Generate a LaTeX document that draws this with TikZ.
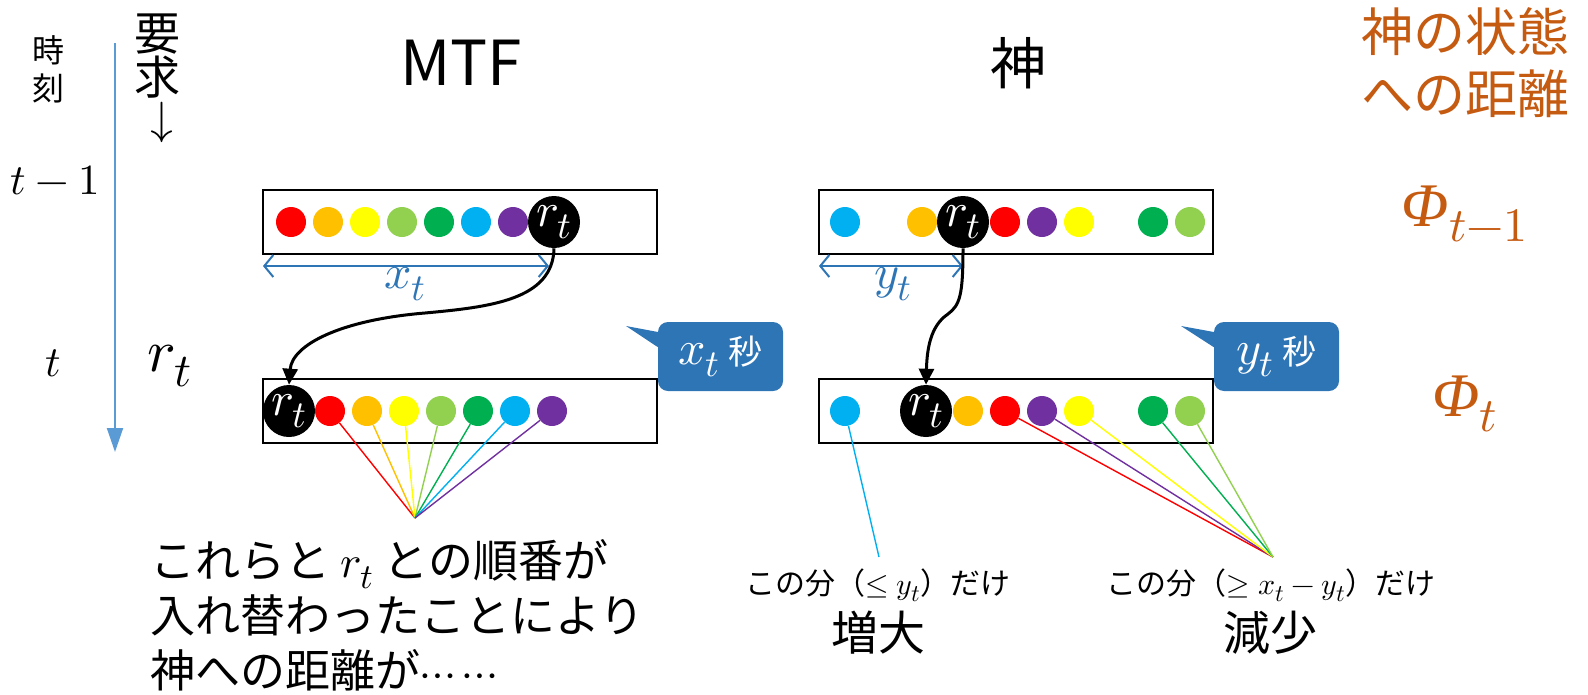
\documentclass[tikz,border=0pt]{standalone}
\usepackage{fontspec}
\usepackage{unicode-math}
\setmainfont{Noto Sans CJK JP}
\setmathfont{Latin Modern Math}
\newfontfamily\phifont{Liberation Serif}
\usepackage{xcolor}
\usetikzlibrary{arrows.meta}
\usetikzlibrary{positioning}

\DeclareMathSizes{30}{30}{24}{19}
\DeclareMathSizes{43}{43}{34}{27}
\DeclareMathSizes{45}{45}{35}{28}
\DeclareMathSizes{48}{48}{38}{30}
\DeclareMathSizes{50}{50}{39}{31}
\DeclareMathSizes{60}{60}{47}{37}
\DeclareMathSizes{62}{62}{48}{38}

\definecolor{ppred}{HTML}{FF0000}
\definecolor{pporange}{HTML}{FFC000}
\definecolor{ppyellow}{HTML}{FFFF00}
\definecolor{pplgreen}{HTML}{92D050}
\definecolor{ppgreen}{HTML}{00B050}
\definecolor{ppcyan}{HTML}{00B0F0}
\definecolor{pppurple}{HTML}{7030A0}
\definecolor{cblue}{HTML}{2E75B6}
\definecolor{tblue}{HTML}{5B9BD5}
\definecolor{corange}{HTML}{C55A11}

\begin{document}
\begin{tikzpicture}[x=1pt,y=-1pt,node distance=37pt,semithick]
	\tikzstyle{ball}=[circle, inner sep=0pt, minimum size=30pt]
	\tikzstyle{req}=[circle, fill=black, text=white, inner sep=0pt, minimum size=52pt, font=\fontsize{48}{48}\selectfont]
	\tikzstyle{row}=[draw=black, line width=2.6pt]
	\tikzstyle{tie}=[line width=1.4pt]
	\tikzstyle{flow}=[-{Triangle[length=16pt,width=15pt]}, line width=3pt]
	\tikzstyle{span}=[{Straight Barb[length=9pt,width=22pt]}-{Straight Barb[length=9pt,width=22pt]}, draw=cblue, line width=2pt]
	\tikzstyle{say}=[fill=cblue, rounded corners=10pt, minimum width=125pt, minimum height=69pt, inner sep=0pt, text=white, font=\fontsize{48}{48}\selectfont]
	\tikzstyle{phi}=[text=corange, font=\fontsize{62}{62}\selectfont]
	\tikzstyle{note}=[font=\fontsize{30}{30}\selectfont]
	\tikzstyle{verdict}=[font=\fontsize{47}{47}\selectfont]
	\useasboundingbox (0,0) rectangle (1588,694);

	% time axis
	\coordinate (T0) at (115,43);
	\coordinate (T1) at (115,452);
	\draw[-{Triangle[length=24pt,width=16pt]}, draw=tblue, line width=2pt] (T0) -- (T1);
	\node[font=\fontsize{32}{38}\selectfont, align=center] (clock) at (48,69) {時\\刻};
	\node[font=\fontsize{46}{44}\selectfont, align=center] (ask) at (157,78) {要\\求\\[-4pt]\hspace*{10pt}$\downarrow$};
	\node[font=\fontsize{43}{43}\selectfont] (tprev) at (55,180) {$t-1$};
	\node[font=\fontsize{43}{43}\selectfont] (tnow) at (53,363) {$t$};
	\node[font=\fontsize{60}{60}\selectfont] (rnow) at (170,366) {$r_t$};

	% headings
	\node[font=\fontsize{62}{62}\selectfont] (mtf) at (461,63) {MTF};
	\node[font=\fontsize{56}{56}\selectfont] (god) at (1018,63) {神};
	\node[text=corange, font=\fontsize{52}{62}\selectfont, align=center] (dist) at (1465,63) {神の状態\\への距離};
	\node[phi] (phiA) at (1465,214) {{\phifont\itshape Φ}$_{t-1}$};
	\node[phi] (phiB) at (1465,404) {{\phifont\itshape Φ}$_t$};

	% lists
	\draw[row] (263,190) rectangle (657,254);
	\draw[row] (263,379) rectangle (657,443);
	\draw[row] (819,190) rectangle (1213,254);
	\draw[row] (819,379) rectangle (1213,443);

	% MTF, time t-1
	\node[ball, fill=ppred] (a1) at (291,222) {};
	\node[ball, fill=pporange] (a2) [right of=a1] {};
	\node[ball, fill=ppyellow] (a3) [right of=a2] {};
	\node[ball, fill=pplgreen] (a4) [right of=a3] {};
	\node[ball, fill=ppgreen] (a5) [right of=a4] {};
	\node[ball, fill=ppcyan] (a6) [right of=a5] {};
	\node[ball, fill=pppurple] (a7) [right of=a6] {};
	\node[req] (aR) [right of=a7, node distance=41pt] {$r_t$};

	% MTF, time t
	\node[req] (bR) at (289,411) {$r_t$};
	\node[ball, fill=ppred] (b1) [right of=bR, node distance=41pt] {};
	\node[ball, fill=pporange] (b2) [right of=b1] {};
	\node[ball, fill=ppyellow] (b3) [right of=b2] {};
	\node[ball, fill=pplgreen] (b4) [right of=b3] {};
	\node[ball, fill=ppgreen] (b5) [right of=b4] {};
	\node[ball, fill=ppcyan] (b6) [right of=b5] {};
	\node[ball, fill=pppurple] (b7) [right of=b6] {};

	% god, time t-1
	\node[ball, fill=ppcyan] (c1) at (845,222) {};
	\node[ball, fill=pporange] (c2) [right of=c1, node distance=77pt] {};
	\node[req] (cR) [right of=c2, node distance=41pt] {$r_t$};
	\node[ball, fill=ppred] (c3) [right of=cR, node distance=42pt] {};
	\node[ball, fill=pppurple] (c4) [right of=c3] {};
	\node[ball, fill=ppyellow] (c5) [right of=c4] {};
	\node[ball, fill=ppgreen] (c6) [right of=c5, node distance=74pt] {};
	\node[ball, fill=pplgreen] (c7) [right of=c6] {};

	% god, time t
	\node[ball, fill=ppcyan] (d1) at (845,411) {};
	\node[req] (dR) [right of=d1, node distance=81pt] {$r_t$};
	\node[ball, fill=pporange] (d2) [right of=dR, node distance=42pt] {};
	\node[ball, fill=ppred] (d3) [right of=d2] {};
	\node[ball, fill=pppurple] (d4) [right of=d3] {};
	\node[ball, fill=ppyellow] (d5) [right of=d4] {};
	\node[ball, fill=ppgreen] (d6) [right of=d5, node distance=74pt] {};
	\node[ball, fill=pplgreen] (d7) [right of=d6] {};

	% distances
	\coordinate (xs) at (263,266);
	\coordinate (xe) at (549,266);
	\coordinate (ys) at (819,266);
	\coordinate (ye) at (963,266);
	\draw[span] (xs) -- (xe);
	\draw[span] (ys) -- (ye);
	\node[text=cblue, font=\fontsize{48}{48}\selectfont] (xlen) at (405,284) {$x_t$};
	\node[text=cblue, font=\fontsize{48}{48}\selectfont] (ylen) at (893,284) {$y_t$};

	% moves
	\draw[flow] (aR.south) .. controls (553,300) and (490,307) .. (425,313)
		.. controls (340,320) and (292,345) .. (bR.north);
	\draw[flow] (cR.south) .. controls (963,295) and (960,305) .. (948,314)
		.. controls (930,326) and (927,350) .. (dR.north);

	% costs
	\node[say] (secA) at (720.5,356.5) {$x_t$\hspace{9pt}\fontsize{34}{34}\selectfont 秒};
	\fill[cblue] (626,326) -- ([shift={(4pt,-11pt)}]secA.north west) -- ([shift={(4pt,-28pt)}]secA.north west) -- cycle;
	\node[say] (secB) at (1276.5,356.5) {$y_t$\hspace{9pt}\fontsize{34}{34}\selectfont 秒};
	\fill[cblue] (1181,326) -- ([shift={(4pt,-11pt)}]secB.north west) -- ([shift={(4pt,-28pt)}]secB.north west) -- cycle;

	% swapped pairs
	\coordinate (Pm) at (415,518);
	\coordinate (Pg) at (879,557);
	\coordinate (Pd) at (1273,557);
	\path[tie]
		(b1) edge[ppred] (Pm)
		(b2) edge[pporange] (Pm)
		(b3) edge[ppyellow] (Pm)
		(b4) edge[pplgreen] (Pm)
		(b5) edge[ppgreen] (Pm)
		(b6) edge[ppcyan] (Pm)
		(b7) edge[pppurple] (Pm);
	\path[tie]
		(d1) edge[ppcyan] (Pg)
		(d3) edge[ppred] (Pd)
		(d4) edge[pppurple] (Pd)
		(d5) edge[ppyellow] (Pd)
		(d6) edge[ppgreen] (Pd)
		(d7) edge[pplgreen] (Pd);

	% notes
	\node[anchor=west, align=left, inner sep=0pt, font=\fontsize{45}{55}\selectfont] (why) at (150,615) {これらと $r_t$ との順番が\\入れ替わったことにより\\神への距離が$\cdots\cdots$};
	\node[note] (upnote) at (878,585) {この分（$\le y_t$）だけ};
	\node[verdict] (up) at (878,633) {増大};
	\node[note] (downnote) at (1271,585) {この分（$\ge x_t-y_t$）だけ};
	\node[verdict] (down) at (1270,633) {減少};
\end{tikzpicture}
\end{document}
